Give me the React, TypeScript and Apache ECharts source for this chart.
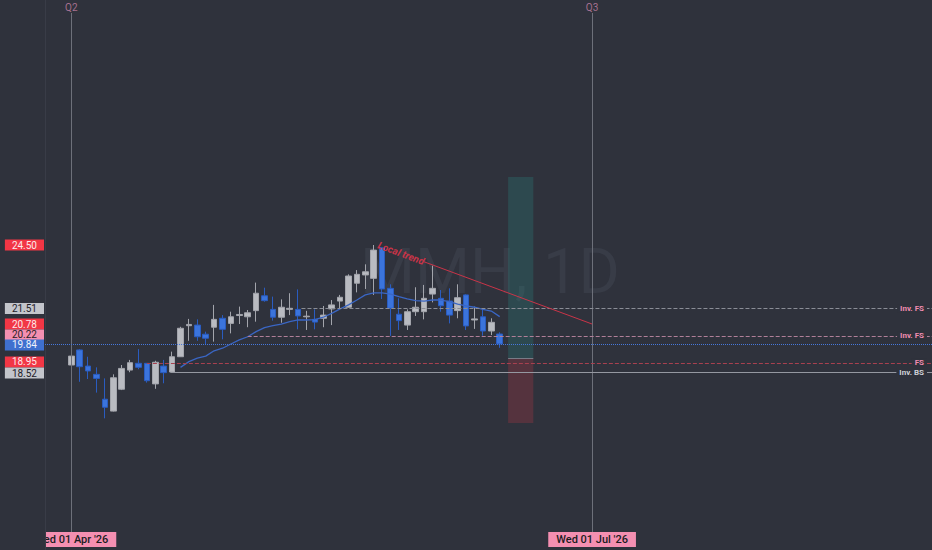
import React, { useEffect, useRef } from 'react';
import * as echarts from 'echarts';

// ---- data ----
// OHLC per trading day, index 0 = Wed 01 Apr '26  [open, close, low, high]
const candles: number[][] = [
  [18.85, 19.27, 18.49, 19.98],
  [19.56, 18.77, 18.06, 19.6],
  [18.8, 18.57, 18.19, 19.24],
  [18.41, 18.22, 17.55, 18.74],
  [17.24, 16.86, 16.34, 18.22],
  [16.68, 18.25, 16.66, 18.41],
  [17.71, 18.69, 17.67, 18.85],
  [18.61, 18.96, 18.51, 19.09],
  [18.93, 18.74, 18.65, 19.6],
  [18.93, 18.11, 18.02, 18.94],
  [17.96, 18.98, 17.73, 19.05],
  [18.8, 18.49, 17.99, 19.09],
  [18.52, 19.24, 18.5, 19.48],
  [19.24, 20.58, 19.23, 20.65],
  [20.7, 20.76, 19.99, 21.02],
  [20.73, 20.18, 19.99, 21.0],
  [20.3, 20.11, 19.84, 20.42],
  [20.63, 21.0, 19.95, 21.68],
  [21.05, 20.53, 20.06, 21.2],
  [20.81, 21.12, 20.34, 21.36],
  [21.18, 21.23, 20.78, 21.6],
  [21.12, 21.31, 20.63, 21.44],
  [21.41, 22.23, 20.89, 22.73],
  [22.11, 21.88, 21.83, 22.49],
  [21.47, 21.1, 20.94, 22.07],
  [21.1, 21.57, 20.84, 21.94],
  [21.47, 21.52, 21.2, 22.23],
  [21.47, 21.16, 20.53, 22.41],
  [21.12, 21.15, 20.5, 21.4],
  [21.0, 20.87, 20.53, 21.47],
  [21.05, 21.2, 20.63, 21.63],
  [21.49, 21.68, 20.73, 21.91],
  [21.86, 22.04, 21.49, 22.15],
  [21.57, 23.04, 21.56, 23.12],
  [22.7, 23.12, 22.27, 23.32],
  [23.09, 23.24, 22.43, 23.59],
  [22.93, 24.26, 22.15, 24.5],
  [24.37, 22.43, 21.96, 24.38],
  [22.46, 21.52, 20.22, 22.65],
  [21.24, 20.94, 20.5, 21.99],
  [20.73, 21.36, 20.5, 21.47],
  [21.36, 21.57, 21.16, 22.51],
  [21.36, 21.99, 21.0, 22.62],
  [22.19, 22.46, 21.8, 23.53],
  [21.99, 21.64, 21.36, 22.38],
  [21.86, 21.2, 20.81, 22.46],
  [21.41, 22.02, 21.05, 22.65],
  [22.15, 20.69, 20.5, 22.18],
  [20.97, 21.02, 20.55, 21.6],
  [21.12, 20.45, 20.23, 21.52],
  [20.45, 20.86, 20.26, 21.05],
  [20.31, 19.84, 19.66, 20.39],
];

// moving average, starting at bar index maStart
const maStart = 13;
const maValues = [
  18.74, 19.01, 19.17, 19.27, 19.52, 19.64, 19.84, 20.03, 20.18, 20.42,
  20.61, 20.7, 20.78, 20.89, 20.97, 20.97, 20.99, 21.1, 21.28, 21.49,
  21.68, 21.91, 22.15, 22.25, 22.25, 22.19, 22.07, 21.96, 21.88, 21.86,
  21.91, 21.91, 21.83, 21.72, 21.63, 21.57, 21.47, 21.39, 21.13,
];

// horizontal levels
const levelPrices = [21.51, 20.22, 18.95, 18.52];
const levelStarts = [27.4, 21, 9, 11.8];
const levelTags = ['Inv. FS', 'Inv. FS', 'FS', 'Inv. BS'];
const lastPrice = 19.84;

// left price-scale tags
const tagPrices = [24.5, 21.51, 20.78, 20.22, 19.84, 18.95, 18.52];
const tagBg = ['#f23645', '#c3c5cb', '#f23645', '#f48fb1', '#3f70cf', '#f23645', '#c3c5cb'];
const tagFg = ['#fde8eb', '#1e2028', '#fde8eb', '#2a1e24', '#eef2fc', '#fde8eb', '#1e2028'];
const tagNudge = [0, 0, 0, -1, 1, -1, 1];

// trend line
const trendStart = [36.6, 24.5];
const trendEnd = [62, 20.78];

// quarters
const quarterIdx = [0, 62];
const quarterNames = ['Q2', 'Q3'];
const quarterDates = ["Wed 01 Apr '26", "Wed 01 Jul '26"];

// long position box
const posX = [52, 55];
const posPrices = [27.7, 19.18, 16.12];

const BG = '#2f323c';
const CLEAR = 'rgba(0,0,0,0)';

export default function App() {
  const ref = useRef<HTMLDivElement>(null);
  useEffect(() => {
    document.body.style.margin = '0';
    document.body.style.background = BG;
    const chart = echarts.init(ref.current!, null, { renderer: 'svg' });
    const xMin = -3.131;
    const xMax = 102.464;

    const levelColors = ['#8a8d96', '#b07f98', '#a8404f', '#9598a1'];
    const levelTypes: any[] = ['dashed', 'dashed', 'dashed', 'solid'];
    const levelTagColors = ['#f08cb0', '#f08cb0', '#f08cb0', '#cfd1d8'];

    const tm = 0.21;
    const trendMid = [
      trendStart[0] + (trendEnd[0] - trendStart[0]) * tm,
      trendStart[1] + (trendEnd[1] - trendStart[1]) * tm,
    ];

    const option: any = {
      animation: false,
      backgroundColor: BG,
      grid: { left: 45, right: 0, top: 13, bottom: 18 },
      xAxis: {
        type: 'value',
        min: xMin,
        max: xMax,
        axisLine: { show: false },
        axisTick: { show: false },
        axisLabel: { show: false },
        splitLine: { show: false },
      },
      yAxis: {
        type: 'value',
        min: 10.988,
        max: 35.423,
        axisLine: { show: false },
        axisTick: { show: false },
        axisLabel: { show: false },
        splitLine: { show: false },
      },
      graphic: [
        {
          type: 'text',
          left: 360,
          top: 240,
          z: 0,
          silent: true,
          style: {
            text: 'MMH, 1D',
            fill: '#383c47',
            font: '63px Roboto',
          },
        },
        {
          type: 'rect',
          z: 4,
          silent: true,
          shape: { x: 0, y: 0, width: 45, height: 550 },
          style: { fill: BG },
        },
        {
          type: 'line',
          z: 4,
          silent: true,
          shape: { x1: 45.5, y1: 0, x2: 45.5, y2: 550 },
          style: { stroke: '#393c47', lineWidth: 1 },
        },
      ],
      series: [
        {
          type: 'line',
          name: 'quarters',
          data: [],
          markLine: {
            z: 3,
            silent: true,
            symbol: ['none', 'none'],
            data: [
              ...quarterIdx.map((x, i) => ({
                xAxis: x,
                lineStyle: { color: '#6d707a', width: 1, type: 'solid' },
                label: {
                  show: true,
                  position: 'end',
                  distance: 1,
                  formatter: quarterNames[i],
                  color: '#a5708f',
                  fontSize: 10,
                  fontFamily: 'Roboto',
                },
              })),
              ...quarterIdx.map((x, i) => ({
                xAxis: x,
                lineStyle: { color: CLEAR, width: 0 },
                label: {
                  show: true,
                  opacity: 1,
                  position: 'start',
                  distance: 0,
                  formatter: quarterDates[i],
                  color: '#1a1c22',
                  backgroundColor: '#f48fb1',
                  padding: [2, 8, 2, 8],
                  fontSize: 11,
                  fontWeight: 500,
                  fontFamily: 'Roboto',
                },
              })),
            ],
          },
        },
        {
          type: 'candlestick',
          name: 'price',
          data: candles.map((c, i) => [i, c[0], c[1], c[2], c[3]]),
          encode: { x: 0, y: [1, 2, 3, 4] },
          barWidth: 6,
          itemStyle: {
            color: '#b9bbc1',
            color0: '#3b74dc',
            borderColor: '#a3a5ac',
            borderColor0: '#2a5cc0',
            borderWidth: 1,
          },
          markArea: {
            silent: true,
            data: [
              [
                { xAxis: posX[0], yAxis: posPrices[0], itemStyle: { color: 'rgba(38,166,154,0.2)' } },
                { xAxis: posX[1], yAxis: posPrices[1] },
              ],
              [
                { xAxis: posX[0], yAxis: posPrices[1], itemStyle: { color: 'rgba(242,54,69,0.2)' } },
                { xAxis: posX[1], yAxis: posPrices[2] },
              ],
            ],
          },
          markLine: {
            silent: true,
            symbol: ['none', 'none'],
            data: [
              [
                { coord: [posX[0], posPrices[1]], lineStyle: { color: '#787b86', width: 1, type: 'solid' }, label: { show: false } },
                { coord: [posX[1], posPrices[1]] },
              ],
            ],
          },
        },
        {
          type: 'line',
          name: 'MA',
          data: maValues.map((v, i) => [maStart + i, v]),
          showSymbol: false,
          symbol: 'none',
          lineStyle: { color: '#3a66c4', width: 1.3 },
          z: 3,
          markLine: {
            silent: true,
            symbol: ['none', 'none'],
            data: [
              ...levelPrices.map((p, i) => [
                {
                  coord: [levelStarts[i], p],
                  lineStyle: { color: levelColors[i], width: 1, type: levelTypes[i] },
                  label: {
                    show: true,
                    position: 'insideEnd',
                    distance: 5,
                    formatter: levelTags[i],
                    color: levelTagColors[i],
                    backgroundColor: BG,
                    padding: [0, 3, 0, 3],
                    fontSize: 8,
                    fontWeight: 'bold',
                    fontFamily: 'Roboto',
                  },
                },
                { coord: [xMax, p] },
              ]),
              {
                yAxis: lastPrice,
                lineStyle: { color: '#4677dc', width: 1, type: 'dotted' },
                label: { show: false },
              },
            ],
          },
        },
        {
          type: 'line',
          name: 'trend',
          data: [],
          markLine: {
            silent: true,
            symbol: ['none', 'none'],
            data: [
              [
                {
                  coord: trendStart,
                  lineStyle: { color: CLEAR, width: 0 },
                  label: {
                    show: true,
                    opacity: 1,
                    position: 'middle',
                    distance: -5,
                    formatter: 'Local trend',
                    color: '#c93448',
                    fontSize: 10,
                    fontStyle: 'italic',
                    fontWeight: 'bold',
                    fontFamily: 'Roboto',
                  },
                },
                { coord: trendMid },
              ],
              [
                {
                  coord: trendMid,
                  lineStyle: { color: '#c93448', width: 1, type: 'solid' },
                  label: { show: false },
                },
                { coord: trendEnd },
              ],
            ],
          },
        },
        {
          type: 'line',
          name: 'tags',
          data: [],
          markLine: {
            z: 6,
            silent: true,
            symbol: ['none', 'none'],
            data: tagPrices.map((p, i) => ({
              yAxis: p,
              lineStyle: { color: CLEAR, width: 0 },
              label: {
                show: true,
                opacity: 1,
                position: 'start',
                distance: 1,
                offset: [0, tagNudge[i]],
                formatter: p.toFixed(2),
                color: tagFg[i],
                backgroundColor: tagBg[i],
                lineHeight: 10,
                padding: [1, 7, 0, 7],
                fontSize: 10,
                fontFamily: 'Roboto',
              },
            })),
          },
        },
      ],
    };
    chart.setOption(option);
    return () => chart.dispose();
  }, []);
  return (
    <div
      ref={ref}
      style={{ position: 'fixed', left: 0, top: 0, width: 932, height: 550 }}
    />
  );
}
